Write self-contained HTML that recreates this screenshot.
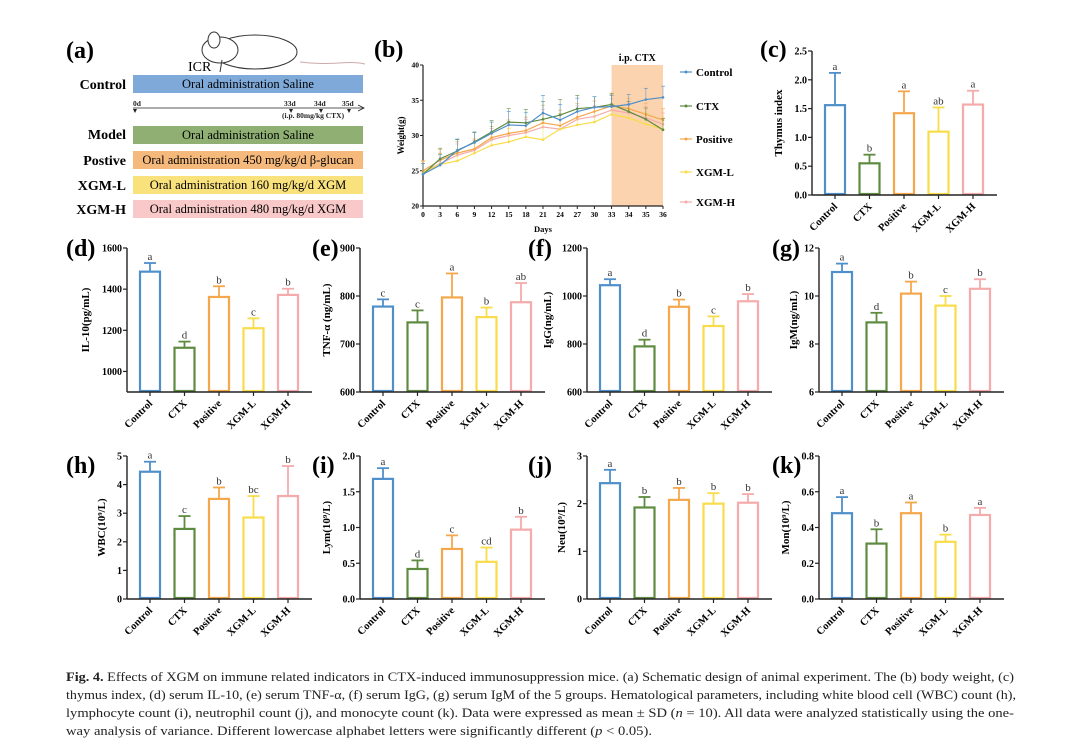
<!DOCTYPE html>
<html><head><meta charset="utf-8">
<style>
html,body{margin:0;padding:0;background:#fff;}
svg{display:block;font-family:"Liberation Serif",serif;}
.b{font-weight:bold;}
</style></head>
<body>
<svg id="fig" width="1080" height="742" viewBox="0 0 1080 742" xmlns="http://www.w3.org/2000/svg">
<g>
<text x="66" y="58" font-size="24" class="b">(a)</text>
<g fill="#fff" stroke="#333" stroke-width="1">
<path d="M300,62 C330,66 350,60 365,64" fill="none" stroke="#caa"/>
<ellipse cx="255" cy="52" rx="42" ry="17"/>
<ellipse cx="220" cy="50" rx="18" ry="13"/>
<ellipse cx="214" cy="40" rx="6" ry="8"/>
<path d="M222,60 l-2,12" fill="none"/>
</g>
<text x="188" y="71" font-size="14">ICR</text>
<g font-size="14" class="b" text-anchor="end">
<text x="126" y="89">Control</text>
<text x="126" y="139">Model</text>
<text x="126" y="165">Postive</text>
<text x="126" y="190">XGM-L</text>
<text x="126" y="214">XGM-H</text>
</g>
<g font-size="12.5" text-anchor="middle">
<rect x="133" y="75" width="230" height="18" fill="#7ea9d8"/>
<text x="248" y="88">Oral administration Saline</text>
<rect x="133" y="126" width="230" height="18" fill="#8fb072"/>
<text x="248" y="139">Oral administration Saline</text>
<rect x="133" y="151" width="230" height="18" fill="#f6b97c"/>
<text x="248" y="164">Oral administration 450 mg/kg/d β-glucan</text>
<rect x="133" y="176" width="230" height="18" fill="#f9e17c"/>
<text x="248" y="189">Oral administration 160 mg/kg/d XGM</text>
<rect x="133" y="200" width="230" height="18" fill="#f8c9c8"/>
<text x="248" y="213">Oral administration 480 mg/kg/d XGM</text>
</g>
<g stroke="#222" stroke-width="0.8">
<line x1="133" y1="108" x2="363" y2="108"/>
<path d="M358,105 L364,108 L358,111" fill="none"/>
</g>
<g font-size="7.5" class="b" fill="#222">
<text x="133" y="106">0d</text><text x="284" y="106">33d</text><text x="314" y="106">34d</text><text x="342" y="106">35d</text>
<text x="282" y="118">(i.p. 80mg/kg CTX)</text>
<path d="M133,109 l2,4 l2,-4z M289,109 l2,4 l2,-4z M319,109 l2,4 l2,-4z M347,109 l2,4 l2,-4z"/>
</g>
</g>
<text x="374" y="57" font-size="24" class="b">(b)</text>
<g id="pb"></g>
<g id="bars"></g>
<g font-size="12.5" fill="#222">
<text x="66" y="681" textLength="948" lengthAdjust="spacingAndGlyphs"><tspan font-weight="bold">Fig. 4.</tspan>  Effects of XGM on immune related indicators in CTX-induced immunosuppression mice. (a) Schematic design of animal experiment. The (b) body weight, (c)</text>
<text x="66" y="699" textLength="950" lengthAdjust="spacingAndGlyphs">thymus index, (d) serum IL-10, (e) serum TNF-α, (f) serum IgG, (g) serum IgM of the 5 groups. Hematological parameters, including white blood cell (WBC) count (h),</text>
<text x="66" y="717" textLength="948" lengthAdjust="spacingAndGlyphs">lymphocyte count (i), neutrophil count (j), and monocyte count (k). Data were expressed as mean ± SD (<tspan font-style="italic">n</tspan> = 10). All data were analyzed statistically using the one-</text>
<text x="66" y="735" textLength="586" lengthAdjust="spacingAndGlyphs">way analysis of variance. Different lowercase alphabet letters were significantly different (<tspan font-style="italic">p</tspan> &lt; 0.05).</text>
</g>
</svg>
<script>
const NS="http://www.w3.org/2000/svg";
const groups=["Control","CTX","Positive","XGM-L","XGM-H"];
const colors=["#4f8fca","#5e8b40","#f5a74c","#f8dc4a","#f5abab"];
const days=["0","3","6","9","12","15","18","21","24","27","30","33","34","35","36"];
const wControl=[24.5,25.8,27.9,29.0,30.3,31.5,31.4,33.2,32.2,33.4,34.0,34.1,34.4,35.1,35.4];
const wCTX=[24.5,26.7,27.8,29.1,30.5,31.9,31.8,32.3,32.9,33.8,34.0,34.4,33.4,32.3,30.8];
const wPositive=[25.0,26.5,27.5,28.1,29.7,30.3,30.7,31.8,31.4,32.6,33.4,34.2,33.8,33.0,32.2];
const wXGML=[24.8,25.9,26.4,27.5,28.6,29.1,29.8,29.4,30.9,31.5,31.9,33.0,32.5,31.6,30.9];
const wXGMH=[24.8,26.0,27.2,27.9,29.4,30.0,30.4,31.2,30.9,32.3,32.7,33.6,33.2,32.5,31.6];
const wErr=[1.5,1.5,1.6,1.4,1.6,1.9,1.9,2.5,2.2,1.9,1.5,1.6,1.4,1.6,1.6];
const wTicks=[20,25,30,35,40];
const cVals=[1.56,0.55,1.42,1.1,1.57], cErr=[0.56,0.15,0.38,0.42,0.24], cSig=["a","b","a","ab","a"], cTicks=["0.0","0.5","1.0","1.5","2.0","2.5"];
const dVals=[1485,1115,1362,1210,1372], dErr=[42,30,52,48,30], dSig=["a","d","b","c","b"], dTicks=["1000","1200","1400","1600"];
const eVals=[778,745,797,756,787], eErr=[15,25,50,20,40], eSig=["c","c","a","b","ab"], eTicks=["600","700","800","900"];
const fVals=[1045,790,955,875,978], fErr=[25,28,30,40,30], fSig=["a","d","b","c","b"], fTicks=["600","800","1000","1200"];
const gVals=[11.0,8.9,10.1,9.6,10.3], gErr=[0.35,0.4,0.5,0.4,0.4], gSig=["a","d","b","c","b"], gTicks=["6","8","10","12"];
const hVals=[4.45,2.45,3.5,2.85,3.6], hErr=[0.35,0.45,0.4,0.75,1.05], hSig=["a","c","b","bc","b"], hTicks=["0","1","2","3","4","5"];
const iVals=[1.68,0.42,0.7,0.52,0.97], iErr=[0.15,0.12,0.19,0.2,0.18], iSig=["a","d","c","cd","b"], iTicks=["0.0","0.5","1.0","1.5","2.0"];
const jVals=[2.43,1.92,2.08,2.0,2.02], jErr=[0.28,0.22,0.25,0.22,0.18], jSig=["a","b","b","b","b"], jTicks=["0","1","2","3"];
const kVals=[0.48,0.31,0.48,0.32,0.47], kErr=[0.09,0.08,0.06,0.04,0.04], kSig=["a","b","a","b","a"], kTicks=["0.0","0.2","0.4","0.6","0.8"];

function el(tag,attrs,parent){const e=document.createElementNS(NS,tag);for(const k in attrs)e.setAttribute(k,attrs[k]);parent.appendChild(e);return e;}
function txt(s,attrs,parent){const t=el("text",attrs,parent);t.textContent=s;return t;}

(function(){
const g=document.getElementById("pb");
const x0=423,x1=663,yTop=65,yBot=206,ymin=20,ymax=40;
const xs=i=>x0+(x1-x0)*i/(days.length-1);
const ys=v=>yBot-(v-ymin)/(ymax-ymin)*(yBot-yTop);
const sh=el("rect",{x:xs(11),y:yTop,width:xs(14)-xs(11),height:yBot-yTop,fill:"#fbd3ae"},g);


const st=txt("i.p. CTX",{x:(xs(11)+xs(14))/2,y:61,"font-size":10,"font-weight":"bold","text-anchor":"middle"},g);


el("line",{x1:x0,y1:yTop,x2:x0,y2:yBot,stroke:"#222","stroke-width":1.2},g);
el("line",{x1:x0,y1:yBot,x2:x1,y2:yBot,stroke:"#222","stroke-width":1.2},g);
wTicks.forEach(t=>{el("line",{x1:x0-3,x2:x0,y1:ys(t),y2:ys(t),stroke:"#222"},g);
 txt(String(t),{x:x0-4,y:ys(t)+2.5,"font-size":7.5,"font-weight":"bold","text-anchor":"end"},g);});
days.forEach((d,i)=>{el("line",{x1:xs(i),x2:xs(i),y1:yBot,y2:yBot+3,stroke:"#222"},g);
 txt(d,{x:xs(i),y:yBot+11,"font-size":7.5,"font-weight":"bold","text-anchor":"middle"},g);});
const xt=txt("Days",{x:(x0+x1)/2,y:232,"font-size":8.5,"font-weight":"bold","text-anchor":"middle"},g);


const yt=txt("Weight(g)",{x:0,y:0,"font-size":9,"font-weight":"bold","text-anchor":"middle",transform:`translate(404,${(yTop+yBot)/2}) rotate(-90)`},g);


const series=[wControl,wCTX,wPositive,wXGML,wXGMH];
const order=[4,3,2,1,0];
order.forEach(si=>{const s=series[si];const sg=el("g",{},g);
 
 
 s.forEach((v,i)=>{el("line",{x1:xs(i),x2:xs(i),y1:ys(v),y2:ys(v+wErr[i]),stroke:colors[si],"stroke-width":0.6,opacity:0.8},sg);
  el("line",{x1:xs(i)-2,x2:xs(i)+2,y1:ys(v+wErr[i]),y2:ys(v+wErr[i]),stroke:colors[si],"stroke-width":0.6},sg);});
 el("polyline",{points:s.map((v,i)=>xs(i)+","+ys(v)).join(" "),fill:"none",stroke:colors[si],"stroke-width":1.2},sg);
 s.forEach((v,i)=>el("circle",{cx:xs(i),cy:ys(v),r:1.3,fill:colors[si]},sg));});
const ly=[72,106,139,172,202];
groups.forEach((n,i)=>{const lg=el("g",{},g);
 
 
 el("line",{x1:680,x2:692,y1:ly[i],y2:ly[i],stroke:colors[i],"stroke-width":1.2},lg);
 el("circle",{cx:686,cy:ly[i],r:1.5,fill:colors[i]},lg);
 txt(n,{x:696,y:ly[i]+4,"font-size":11,"font-weight":"bold"},lg);});
})();

function barPanel(p){
 const g=el("g",{},document.getElementById("bars"));
 
 
 const ys=v=>p.bot-(v-p.ymin)/(p.ymax-p.ymin)*(p.bot-p.top);
 const step=34.5,off=23,bw=20;
 const xEnd=p.ax+off+step*4+bw/2+14;
 const L=txt("("+p.id+")",{x:p.lx,y:p.ly,"font-size":24,"font-weight":"bold"},g);
 
 
 p.vals.forEach((v,i)=>{const cx=p.ax+off+step*i;
  const bg=el("g",{},g);
  
  
  const top=ys(v),et=ys(v+p.err[i]);
  el("line",{x1:cx,x2:cx,y1:top,y2:et,stroke:colors[i],"stroke-width":1.8},bg);
  el("line",{x1:cx-6,x2:cx+6,y1:et,y2:et,stroke:colors[i],"stroke-width":1.8},bg);
  el("rect",{x:cx-bw/2,y:top,width:bw,height:p.bot-top-1,fill:"#fff",stroke:colors[i],"stroke-width":2.2},bg);
  txt(p.sig[i],{x:cx,y:et-3,"font-size":11,"text-anchor":"middle",fill:"#333"},bg);
  el("line",{x1:cx,x2:cx,y1:p.bot,y2:p.bot+4,stroke:"#222","stroke-width":1.2},g);
  txt(groups[i],{x:0,y:0,"font-size":10.5,"font-weight":"bold","text-anchor":"end",transform:`translate(${cx+3},${p.bot+12}) rotate(-45)`},g);
 });
 el("line",{x1:p.ax,y1:p.top,x2:p.ax,y2:p.bot,stroke:"#222","stroke-width":1.4},g);
 el("line",{x1:p.ax,y1:p.bot,x2:xEnd,y2:p.bot,stroke:"#222","stroke-width":1.4},g);
 p.ticks.forEach(t=>{const y=ys(parseFloat(t));
  el("line",{x1:p.ax-4,x2:p.ax,y1:y,y2:y,stroke:"#222","stroke-width":1.2},g);
  txt(t,{x:p.ax-5,y:y+3.5,"font-size":10,"font-weight":"bold","text-anchor":"end"},g);});
 const yt=txt(p.title,{x:0,y:0,"font-size":11,"font-weight":"bold","text-anchor":"middle",transform:`translate(${p.ax-p.tOff},${(p.top+p.bot)/2}) rotate(-90)`},g);
 
 
}
barPanel({id:"c",lx:760,ly:57,ax:812,top:51,bot:195,ymin:0,ymax:2.5,vals:cVals,err:cErr,sig:cSig,ticks:cTicks,title:"Thymus index",tOff:30});
barPanel({id:"d",lx:66,ly:256,ax:127,top:248,bot:392,ymin:900,ymax:1600,vals:dVals,err:dErr,sig:dSig,ticks:dTicks,title:"IL-10(pg/mL)",tOff:38});
barPanel({id:"e",lx:312,ly:256,ax:360,top:248,bot:392,ymin:600,ymax:900,vals:eVals,err:eErr,sig:eSig,ticks:eTicks,title:"TNF-α (ng/mL)",tOff:30});
barPanel({id:"f",lx:528,ly:256,ax:587,top:248,bot:392,ymin:600,ymax:1200,vals:fVals,err:fErr,sig:fSig,ticks:fTicks,title:"IgG(ng/mL)",tOff:36});
barPanel({id:"g",lx:772,ly:256,ax:819,top:248,bot:392,ymin:6,ymax:12,vals:gVals,err:gErr,sig:gSig,ticks:gTicks,title:"IgM(ng/mL)",tOff:22});
barPanel({id:"h",lx:66,ly:473,ax:127,top:456,bot:599,ymin:0,ymax:5,vals:hVals,err:hErr,sig:hSig,ticks:hTicks,title:"WBC(10⁹/L)",tOff:22});
barPanel({id:"i",lx:312,ly:473,ax:360,top:456,bot:599,ymin:0,ymax:2,vals:iVals,err:iErr,sig:iSig,ticks:iTicks,title:"Lym(10⁹/L)",tOff:30});
barPanel({id:"j",lx:528,ly:473,ax:587,top:456,bot:599,ymin:0,ymax:3,vals:jVals,err:jErr,sig:jSig,ticks:jTicks,title:"Neu(10⁹/L)",tOff:22});
barPanel({id:"k",lx:772,ly:473,ax:819,top:456,bot:599,ymin:0,ymax:0.8,vals:kVals,err:kErr,sig:kSig,ticks:kTicks,title:"Mon(10⁹/L)",tOff:30});
</script>
</body></html>
